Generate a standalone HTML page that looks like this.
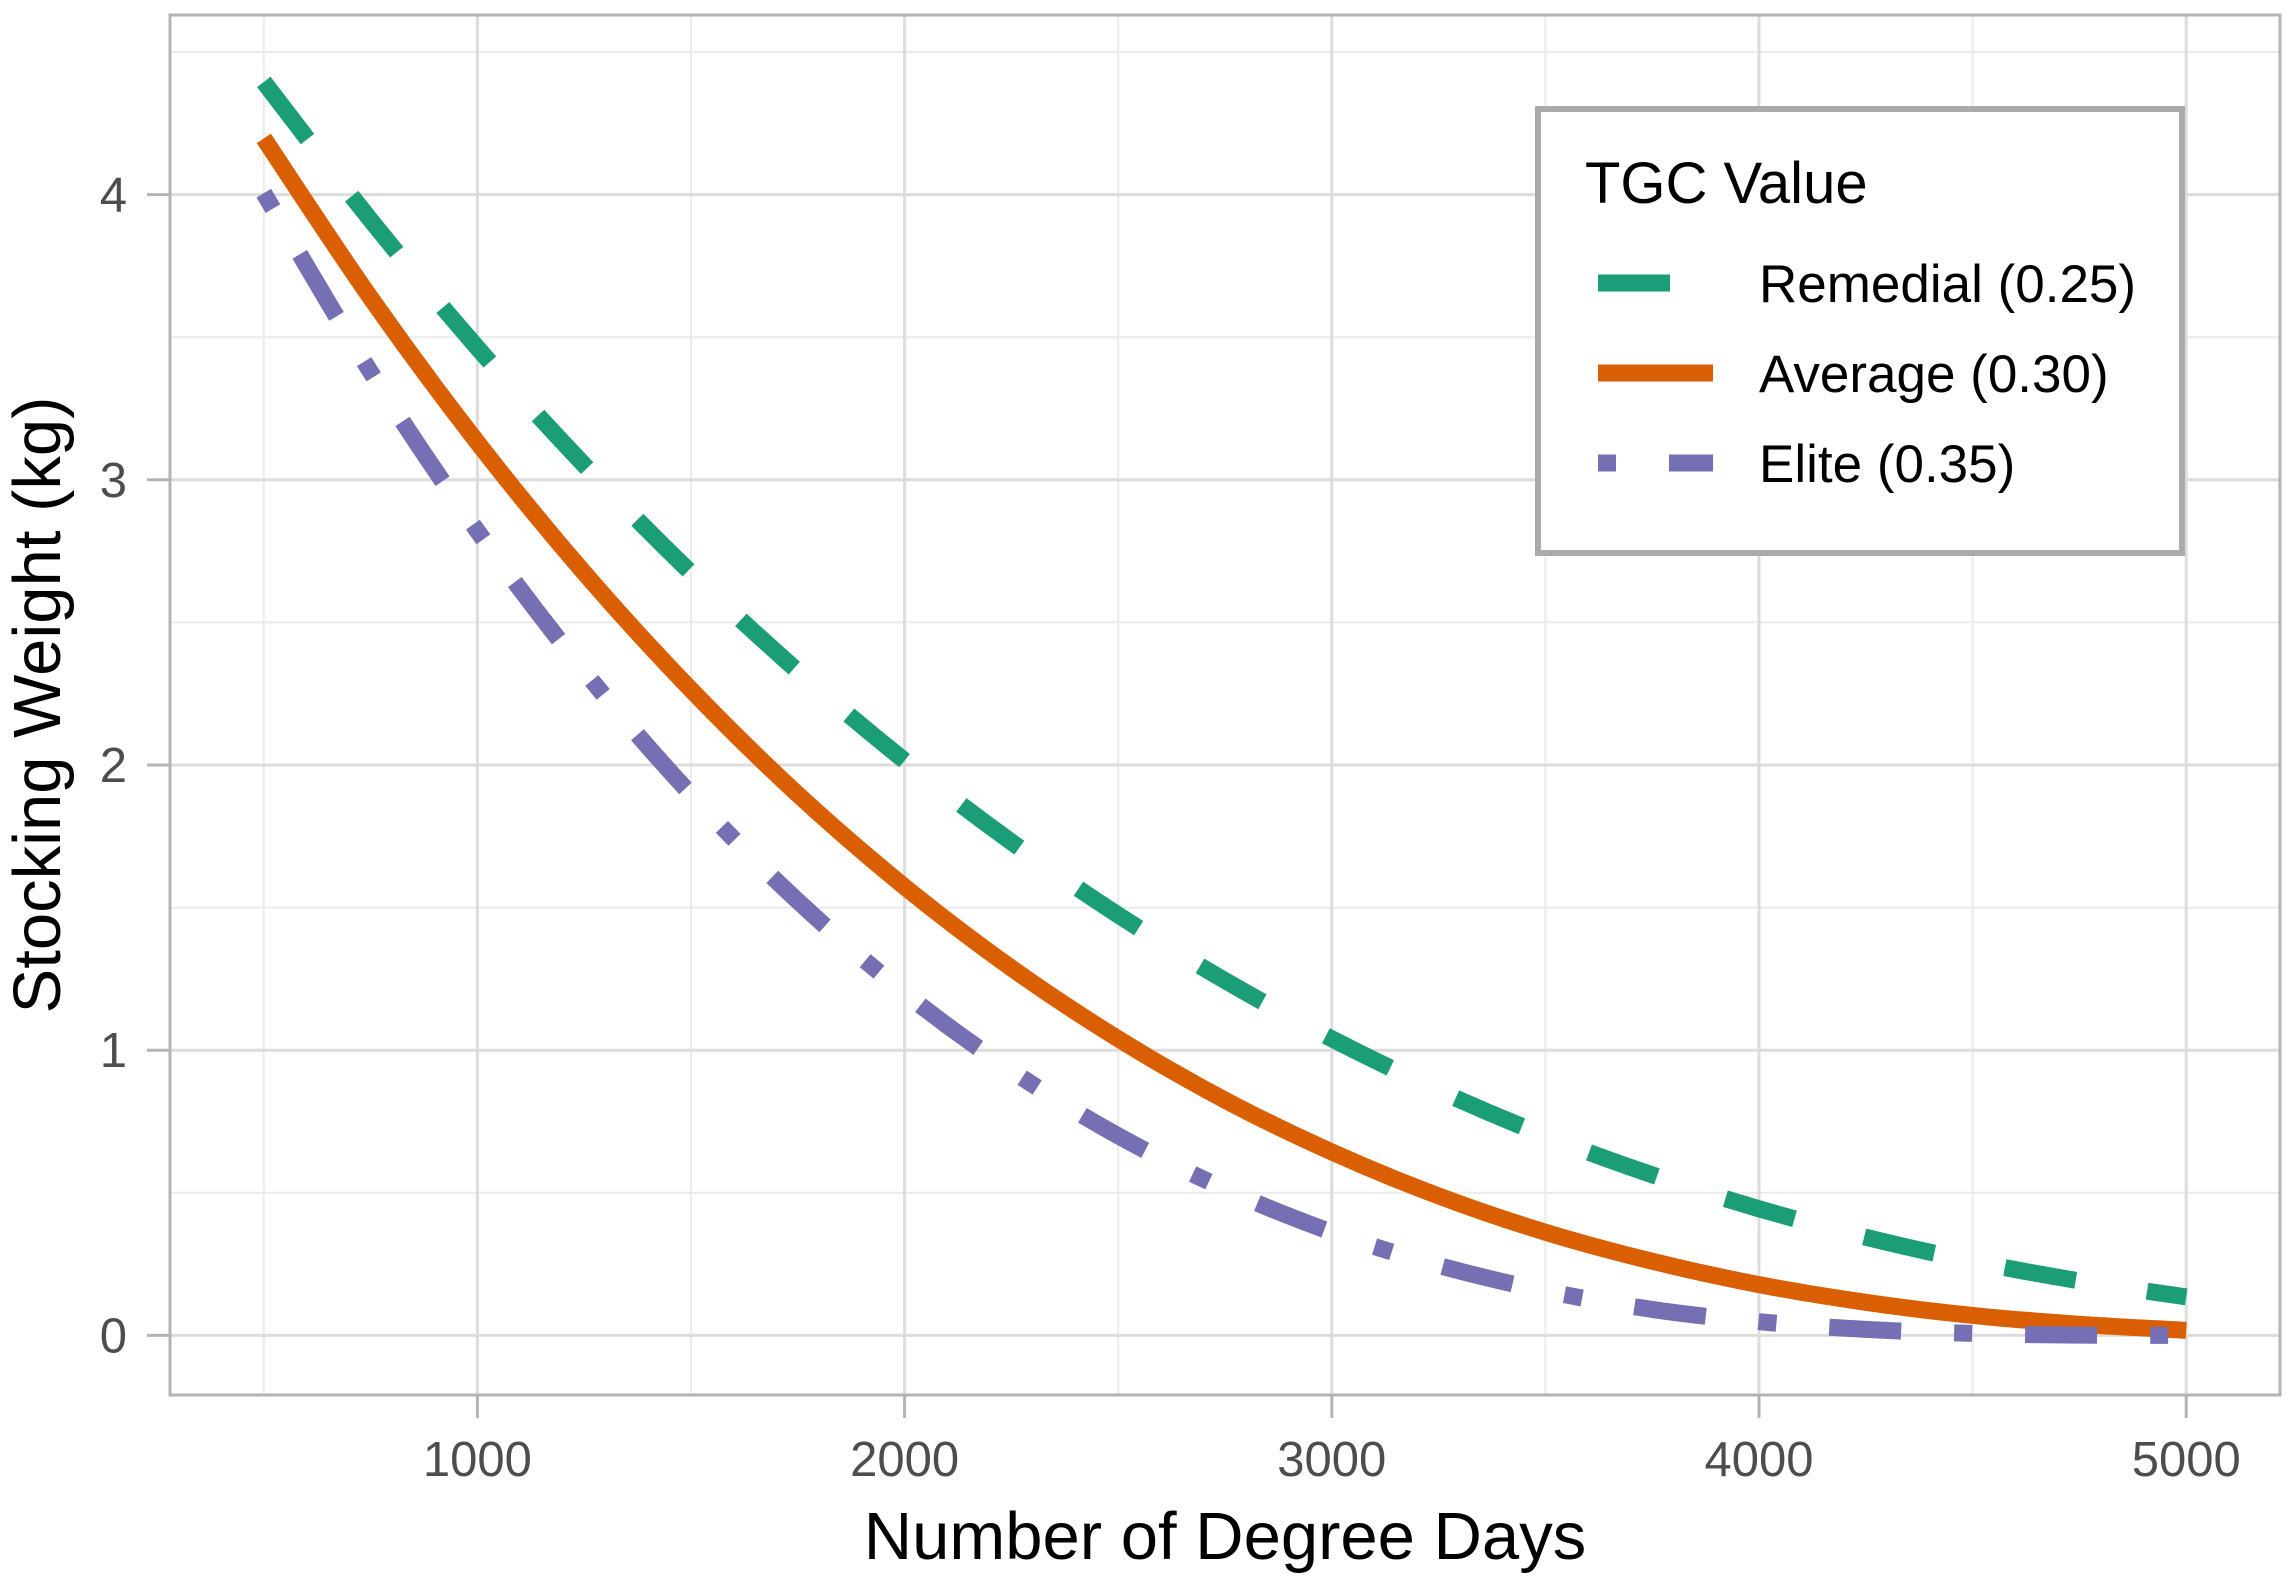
<!DOCTYPE html>
<html><head><meta charset="utf-8"><style>
html,body{margin:0;padding:0;background:#fff;}
svg{display:block;font-family:"Liberation Sans",sans-serif;}
</style></head><body>
<svg id="chart" width="2296" height="1584" viewBox="0 0 2296 1584">
<g id="grid"></g>
<g id="series"></g>
<rect x="170" y="15" width="2110" height="1380" fill="none" stroke="#b3b3b3" stroke-width="3"/>
<g id="axes"></g>
<text x="1225" y="1559" font-size="67" text-anchor="middle" fill="#000">Number of Degree Days</text>
<text transform="translate(60,705) rotate(-90)" font-size="67" text-anchor="middle" fill="#000">Stocking Weight (kg)</text>
<g>
<rect x="1538" y="109" width="644" height="444" fill="#fff" stroke="#aaaaaa" stroke-width="6"/>
<text x="1585" y="203" font-size="58" fill="#000">TGC Value</text>
<g>
<line x1="1598" y1="283" x2="1713" y2="283" stroke="#1b9e77" stroke-width="17" stroke-dasharray="72 72"/>
<text x="1759" y="302" font-size="53" fill="#000">Remedial (0.25)</text></g>
<g>
<line x1="1598" y1="373" x2="1713" y2="373" stroke="#d95f02" stroke-width="17"/>
<text x="1759" y="392" font-size="53" fill="#000">Average (0.30)</text></g>
<g>
<line x1="1598" y1="463" x2="1713" y2="463" stroke="#7570b3" stroke-width="17" stroke-dasharray="18 53 72 53"/>
<text x="1759" y="482" font-size="53" fill="#000">Elite (0.35)</text></g>
</g>
</svg>
<script>
const degreeDays = [500,750,1000,1250,1500,1750,2000,2250,2500,2750,3000,3250,3500,3750,4000,4250,4500,4750,5000];
const remedialValues = [4.395,3.911,3.463,3.052,2.674,2.329,2.015,1.730,1.474,1.244,1.040,0.859,0.700,0.563,0.444,0.344,0.260,0.191,0.135];
const averageValues = [4.197,3.638,3.131,2.674,2.264,1.897,1.573,1.288,1.040,0.825,0.643,0.489,0.362,0.260,0.178,0.116,0.070,0.039,0.018];
const eliteValues = [4.005,3.378,2.821,2.329,1.897,1.523,1.201,0.928,0.700,0.513,0.362,0.245,0.156,0.091,0.048,0.021,0.007,0.001,0.000];
const xTicks = [1000,2000,3000,4000,5000];
const xTickLabels = ["1000","2000","3000","4000","5000"];
const yTicks = [0,1,2,3,4];
const yTickLabels = ["0","1","2","3","4"];
const xMinor = [500,1500,2500,3500,4500];
const yMinor = [0.5,1.5,2.5,3.5,4.5];

const NS = "http://www.w3.org/2000/svg";
function xs(v){return 477.4 + (v-1000)*0.42720;}
function ys(v){return 1335.4 - v*285.2;}
function mk(tag, attrs, parent){const e=document.createElementNS(NS,tag);for(const k in attrs)e.setAttribute(k,attrs[k]);parent.appendChild(e);return e;}
const grid=document.getElementById('grid'), axes=document.getElementById('axes'), series=document.getElementById('series');
xMinor.forEach(v=>{const l=mk('line',{x1:xs(v),x2:xs(v),y1:15,y2:1395,stroke:'#ebebeb','stroke-width':2},grid);

});
yMinor.forEach(v=>{const l=mk('line',{x1:170,x2:2280,y1:ys(v),y2:ys(v),stroke:'#ebebeb','stroke-width':2},grid);

});
xTicks.forEach((v,i)=>{const l=mk('line',{x1:xs(v),x2:xs(v),y1:15,y2:1395,stroke:'#dcdcdc','stroke-width':3},grid);


const t=mk('line',{x1:xs(v),x2:xs(v),y1:1395,y2:1418,stroke:'#b3b3b3','stroke-width':3},axes);


const tx=mk('text',{x:xs(v),y:1476,'font-size':49,'text-anchor':'middle',fill:'#4d4d4d'},axes);tx.textContent=xTickLabels[i];

});
yTicks.forEach((v,i)=>{const l=mk('line',{x1:170,x2:2280,y1:ys(v),y2:ys(v),stroke:'#dcdcdc','stroke-width':3},grid);


const t=mk('line',{x1:147,x2:170,y1:ys(v),y2:ys(v),stroke:'#b3b3b3','stroke-width':3},axes);


const tx=mk('text',{x:127,y:ys(v)+17,'font-size':49,'text-anchor':'end',fill:'#4d4d4d'},axes);tx.textContent=yTickLabels[i];

});
function path(vals){
  const p=vals.map((v,i)=>[xs(degreeDays[i]),ys(v)]);
  let d='M'+p[0][0].toFixed(1)+','+p[0][1].toFixed(1);
  for(let i=0;i<p.length-1;i++){
    const p0=p[i-1]||p[i], p1=p[i], p2=p[i+1], p3=p[i+2]||p[i+1];
    const c1=[p1[0]+(p2[0]-p0[0])/6, p1[1]+(p2[1]-p0[1])/6];
    const c2=[p2[0]-(p3[0]-p1[0])/6, p2[1]-(p3[1]-p1[1])/6];
    d+=' C'+c1[0].toFixed(1)+','+c1[1].toFixed(1)+' '+c2[0].toFixed(1)+','+c2[1].toFixed(1)+' '+p2[0].toFixed(1)+','+p2[1].toFixed(1);
  }
  return d;
}
const p1=mk('path',{d:path(remedialValues),fill:'none',stroke:'#1b9e77','stroke-width':17,'stroke-dasharray':'72 72'},series);


const p2=mk('path',{d:path(averageValues),fill:'none',stroke:'#d95f02','stroke-width':17},series);


const p3=mk('path',{d:path(eliteValues),fill:'none',stroke:'#7570b3','stroke-width':17,'stroke-dasharray':'18 53 72 53'},series);


</script>
</body></html>
